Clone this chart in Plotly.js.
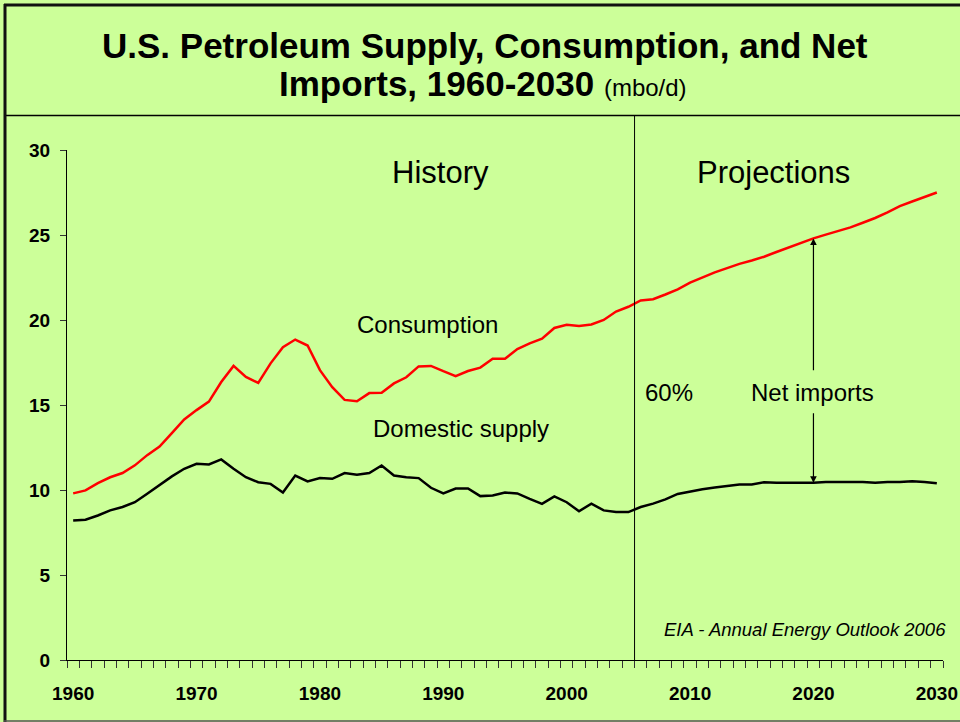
<!DOCTYPE html>
<html>
<head>
<meta charset="utf-8">
<script src="https://cdn.plot.ly/plotly-3.0.1.min.js"></script>
<style>
  html, body { margin: 0; padding: 0; background: #ccff99; }
  #chart { width: 960px; height: 722px; }
</style>
</head>
<body>
<div id="chart"></div>
<script>
const years = [
  1960, 1961, 1962, 1963, 1964, 1965, 1966, 1967, 1968, 1969,
  1970, 1971, 1972, 1973, 1974, 1975, 1976, 1977, 1978, 1979,
  1980, 1981, 1982, 1983, 1984, 1985, 1986, 1987, 1988, 1989,
  1990, 1991, 1992, 1993, 1994, 1995, 1996, 1997, 1998, 1999,
  2000, 2001, 2002, 2003, 2004, 2005, 2006, 2007, 2008, 2009,
  2010, 2011, 2012, 2013, 2014, 2015, 2016, 2017, 2018, 2019,
  2020, 2021, 2022, 2023, 2024, 2025, 2026, 2027, 2028, 2029,
  2030,
];

// mbo/d
const consumption = [
  9.8, 9.98, 10.4, 10.75, 11.0, 11.45, 12.05, 12.55, 13.35, 14.15,
  14.7, 15.2, 16.35, 17.3, 16.65, 16.3, 17.45, 18.4, 18.85, 18.5,
  17.05, 16.05, 15.3, 15.22, 15.7, 15.72, 16.27, 16.63, 17.27, 17.3,
  16.99, 16.7, 17.0, 17.2, 17.72, 17.72, 18.29, 18.63, 18.9, 19.53,
  19.72, 19.65, 19.74, 20.0, 20.5, 20.78, 21.15, 21.22, 21.5, 21.8,
  22.2, 22.5, 22.8, 23.05, 23.3, 23.5, 23.72, 24.0, 24.27, 24.52,
  24.8, 25.02, 25.23, 25.45, 25.72, 26.0, 26.33, 26.7, 26.97, 27.23,
  27.5,
];

const domesticSupply = [
  8.2, 8.25, 8.5, 8.8, 9.0, 9.28, 9.78, 10.3, 10.8, 11.25,
  11.54, 11.5, 11.8, 11.25, 10.75, 10.46, 10.36, 9.85, 10.85, 10.5,
  10.7, 10.66, 11.0, 10.9, 11.0, 11.44, 10.85, 10.75, 10.7, 10.13,
  9.8, 10.09, 10.09, 9.64, 9.68, 9.85, 9.8, 9.48, 9.18, 9.62,
  9.28, 8.75, 9.2, 8.8, 8.7, 8.7, 9.0, 9.2, 9.45, 9.77,
  9.92, 10.05, 10.15, 10.25, 10.33, 10.33, 10.46, 10.42, 10.42, 10.4,
  10.42, 10.47, 10.47, 10.47, 10.47, 10.42, 10.47, 10.47, 10.52, 10.47,
  10.4,
];

const decadeTicks = [1960, 1970, 1980, 1990, 2000, 2010, 2020, 2030];
const lastHistoryYear = 2005;
const arrowYear = 2020;

const W = 960, H = 722;
const margin = { l: 67, r: 17, t: 150, b: 62 };
const plotW = W - margin.l - margin.r;
const plotH = H - margin.t - margin.b;
// page pixel -> paper coordinate
const px = (x) => (x - margin.l) / plotW;
const py = (y) => (H - margin.b - y) / plotH;

const font = "Liberation Sans, Arial, sans-serif";
const green = "#ccff99";

const traces = [
  {
    type: "scatter",
    mode: "lines",
    name: "Consumption",
    x: years,
    y: consumption,
    line: { color: "#ff0000", width: 2.5 },
    hoverinfo: "x+y",
  },
  {
    type: "scatter",
    mode: "lines",
    name: "Domestic supply",
    x: years,
    y: domesticSupply,
    line: { color: "#000000", width: 2.5 },
    hoverinfo: "x+y",
  },
];

const ai = years.indexOf(arrowYear);
// the arrow is broken around the "Net imports" label
const gapTop = (H - margin.b - 371.7) / plotH * 30;
const gapBottom = (H - margin.b - 411.7) / plotH * 30;

const label = (text, x, y, size, extra = {}) => ({
  text,
  xref: "paper",
  yref: "paper",
  x: px(x),
  y: py(y),
  xanchor: "center",
  yanchor: "middle",
  showarrow: false,
  font: { family: font, size, color: "#000" },
  ...extra,
});

const arrow = (tipY, tailY) => ({
  text: "",
  x: arrowYear,
  y: tipY,
  ax: arrowYear,
  ay: tailY,
  xref: "x",
  yref: "y",
  axref: "x",
  ayref: "y",
  showarrow: true,
  arrowhead: 2,
  arrowsize: 1.1,
  arrowwidth: 1.2,
  arrowcolor: "#000",
  standoff: 0,
});

const layout = {
  width: W,
  height: H,
  margin,
  paper_bgcolor: green,
  plot_bgcolor: green,
  showlegend: false,
  xaxis: {
    range: [1959.5, 2030.5],
    tickmode: "array",
    tickvals: decadeTicks,
    ticktext: decadeTicks.map(String),
    ticks: "",
    ticklabelstandoff: 16,
    tickfont: { family: font, size: 19, color: "#000", weight: "bold" },
    showline: true,
    linecolor: "#000",
    linewidth: 1,
    showgrid: false,
    zeroline: false,
    minor: {
      tickmode: "linear",
      tick0: 1959.5,
      dtick: 1,
      ticks: "outside",
      ticklen: 7,
      tickwidth: 1,
      tickcolor: "#333",
      showgrid: false,
    },
  },
  yaxis: {
    range: [0, 30],
    tickvals: [0, 5, 10, 15, 20, 25, 30],
    ticks: "outside",
    ticklen: 6,
    tickwidth: 1,
    tickcolor: "#333",
    ticklabelstandoff: 6,
    tickfont: { family: font, size: 19, color: "#000", weight: "bold" },
    showline: true,
    linecolor: "#000",
    linewidth: 1,
    showgrid: false,
    zeroline: false,
  },
  shapes: [
    // history / projections divider
    {
      type: "line",
      xref: "x",
      yref: "paper",
      x0: lastHistoryYear + 0.5,
      x1: lastHistoryYear + 0.5,
      y0: 0,
      y1: py(115.5),
      line: { color: "#000", width: 1 },
    },
    // title box bottom rule
    {
      type: "line",
      xref: "paper",
      yref: "paper",
      x0: px(4),
      x1: px(W),
      y0: py(115.5),
      y1: py(115.5),
      line: { color: "#000", width: 1.5 },
    },
    // frame: top, left, bottom
    {
      type: "line",
      xref: "paper",
      yref: "paper",
      x0: px(4),
      x1: px(W),
      y0: py(5),
      y1: py(5),
      line: { color: "#111", width: 3 },
    },
    {
      type: "line",
      xref: "paper",
      yref: "paper",
      x0: px(5),
      x1: px(5),
      y0: py(4),
      y1: py(H),
      line: { color: "#111", width: 3 },
    },
    {
      type: "line",
      xref: "paper",
      yref: "paper",
      x0: px(4),
      x1: px(W),
      y0: py(721),
      y1: py(721),
      line: { color: "#555", width: 1.5 },
    },
  ],
  annotations: [
    label("<b>U.S. Petroleum Supply, Consumption, and Net</b>", 485, 45, 35),
    label(
      "<b>Imports, 1960-2030 </b><span style='font-size:24px'>(mbo/d)</span>",
      483,
      83,
      35
    ),
    label("History", 440, 173, 31),
    label("Projections", 773, 173, 31),
    label("Consumption", 427, 324, 24),
    label("Domestic supply", 461, 428, 24),
    label("60%", 669, 392, 24),
    label("Net imports", 812, 392, 24),
    label("<i>EIA - Annual Energy Outlook 2006</i>", 805, 629, 18.5),
    arrow(consumption[ai], gapTop),
    arrow(domesticSupply[ai], gapBottom),
  ],
};

Plotly.newPlot("chart", traces, layout, {
  displayModeBar: false,
  staticPlot: true,
});
</script>
</body>
</html>
